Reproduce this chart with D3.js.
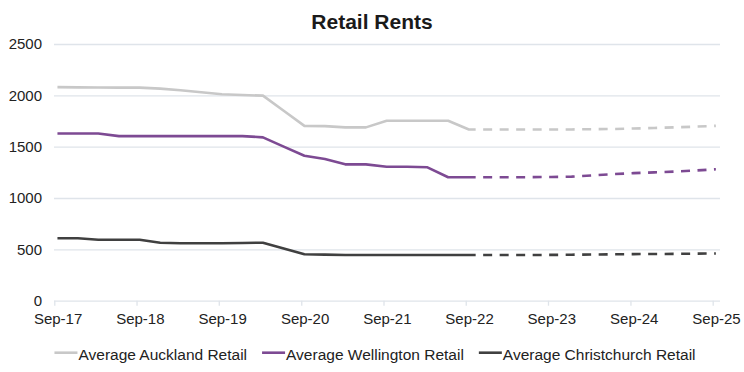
<!DOCTYPE html>
<html>
<head>
<meta charset="utf-8">
<script src="https://cdn.jsdelivr.net/npm/d3@7"></script>
<style>
  body { margin: 0; background: #fff; }
  text { font-family: "Liberation Sans", Arial, sans-serif; }
</style>
</head>
<body>
<svg id="chart" width="744" height="372"></svg>
<script>

// actual values, quarterly (plus Oct-22 where the forecast takes over)
var actualMonths = ["2017-09","2017-12","2018-03","2018-06","2018-09","2018-12","2019-03","2019-06",
  "2019-09","2019-12","2020-03","2020-06","2020-09","2020-12","2021-03","2021-06","2021-09","2021-12",
  "2022-03","2022-06","2022-09","2022-10"];
var auckland     = [2080,2078,2076,2075,2075,2065,2049,2030,2010,2003,1997,1850,1703,1700,1688,1688,1752,1752,1752,1752,1668,1668];
var wellington   = [1628,1628,1628,1603,1603,1603,1603,1603,1603,1603,1591,1500,1412,1380,1328,1328,1305,1305,1299,1202,1202,1202];
var christchurch = [608,608,594,594,594,565,560,559,559,562,565,508,452,449,445,445,445,445,445,445,445,445];

// forecast values (dashed)
var forecastMonths = ["2022-10","2022-12","2023-03","2023-06","2023-09","2023-12","2024-03","2024-06",
  "2024-09","2024-12","2025-03","2025-06","2025-09"];
var aucklandF     = [1668,1668,1668,1668,1668,1668,1670,1672,1677,1682,1688,1695,1703];
var wellingtonF   = [1202,1202,1202,1203,1205,1208,1220,1233,1242,1250,1257,1268,1280];
var christchurchF = [445,445,445,445,446,448,450,452,454,455,456,458,460];

var xTickLabels = ["Sep-17","Sep-18","Sep-19","Sep-20","Sep-21","Sep-22","Sep-23","Sep-24","Sep-25"];
var yTicks = [0,500,1000,1500,2000,2500];
var seriesNames = ["Average Auckland Retail","Average Wellington Retail","Average Christchurch Retail"];
var colors = ["#c8c8c8","#7d4a93","#404040"];

var svg = d3.select("#chart");
var plotLeft = 54, plotRight = 720, plotTop = 44, plotBottom = 300.7;

var parseTick = d3.timeParse("%b-%y");
var parseMonth = function(s) {
  var d = d3.timeParse("%Y-%m")(s);
  d.setDate(15);   // points sit mid-month
  return d;
};

var x = d3.scaleTime()
  .domain([parseTick("Sep-17"), parseTick("Sep-25")])
  .range([54.3, 712.7]);
var y = d3.scaleLinear().domain([0, 2500]).range([plotBottom, plotTop]);

// title
svg.append("text")
  .attr("x", 372).attr("y", 28.5)
  .attr("text-anchor", "middle")
  .attr("font-size", "21px").attr("font-weight", "bold")
  .attr("fill", "#1a1a1a")
  .text("Retail Rents");

// y grid + labels
var gy = svg.append("g")
  .attr("transform", "translate(" + plotLeft + ",0)")
  .call(d3.axisLeft(y).tickValues(yTicks).tickSize(-(plotRight - plotLeft)).tickPadding(12).tickFormat(d3.format("d")));
gy.select(".domain").remove();
gy.selectAll("line").attr("stroke", "#dfe4ea").attr("stroke-width", 1.3);
gy.selectAll("text").attr("font-size", "15px").attr("fill", "#222");

// x axis
var gx = svg.append("g")
  .attr("transform", "translate(0," + plotBottom + ")")
  .call(d3.axisBottom(x).tickValues(xTickLabels.map(parseTick)).tickSize(5).tickPadding(8)
    .tickFormat(d3.timeFormat("%b-%y")));
gx.select(".domain").remove();
gx.selectAll("line").attr("stroke", "#dfe4ea").attr("stroke-width", 1.3);
gx.selectAll("text").attr("font-size", "15px").attr("fill", "#222").attr("dx", 3.3);

var line = d3.line()
  .x(function(d) { return x(d.date); })
  .y(function(d) { return y(d.value); });

function rows(months, values) {
  return months.map(function(m, i) { return { date: parseMonth(m), value: values[i] }; });
}

var actual = [auckland, wellington, christchurch];
var forecast = [aucklandF, wellingtonF, christchurchF];

actual.forEach(function(vals, i) {
  svg.append("path")
    .datum(rows(actualMonths, vals))
    .attr("d", line)
    .attr("fill", "none")
    .attr("stroke", colors[i])
    .attr("stroke-width", 2.6)
    .attr("stroke-linejoin", "round");
});

forecast.forEach(function(vals, i) {
  svg.append("path")
    .datum(rows(forecastMonths, vals))
    .attr("d", line)
    .attr("fill", "none")
    .attr("stroke", colors[i])
    .attr("stroke-width", 2.6)
    .attr("stroke-dasharray", "9,7.5")
    .attr("stroke-dashoffset", 9);
});

// legend
var legend = svg.append("g");
var lx = 0;
seriesNames.forEach(function(name, i) {
  var item = legend.append("g").attr("transform", "translate(" + lx + ",0)");
  item.append("line")
    .attr("x1", 0).attr("x2", 23).attr("y1", 352.7).attr("y2", 352.7)
    .attr("stroke", colors[i]).attr("stroke-width", 2.6);
  var t = item.append("text")
    .attr("x", 24).attr("y", 359.5)
    .attr("font-size", "15.5px").attr("fill", "#222")
    .text(name);
  lx += 24 + t.node().getComputedTextLength() + 15;
});
legend.attr("transform", "translate(" + (375 - (lx - 15) / 2) + ",0)");

</script>
</body>
</html>
